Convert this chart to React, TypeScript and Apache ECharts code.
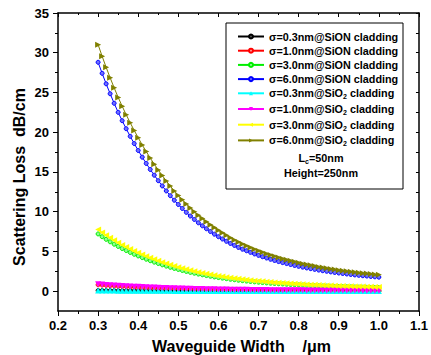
import React, { useEffect, useRef } from 'react';
import * as echarts from 'echarts';

const widths = [0.30,0.31,0.32,0.33,0.34,0.35,0.36,0.37,0.38,0.39,0.40,0.41,0.42,0.43,0.44,0.45,0.46,0.47,0.48,0.49,0.50,0.51,0.52,0.53,0.54,0.55,0.56,0.57,0.58,0.59,0.60,0.61,0.62,0.63,0.64,0.65,0.66,0.67,0.68,0.69,0.70,0.71,0.72,0.73,0.74,0.75,0.76,0.77,0.78,0.79,0.80,0.81,0.82,0.83,0.84,0.85,0.86,0.87,0.88,0.89,0.90,0.91,0.92,0.93,0.94,0.95,0.96,0.97,0.98,0.99,1.00];

const sion03 = [0.072,0.069,0.065,0.062,0.059,0.056,0.054,0.051,0.049,0.046,0.044,0.042,0.040,0.038,0.036,0.035,0.033,0.032,0.030,0.029,0.027,0.026,0.025,0.024,0.023,0.022,0.021,0.020,0.019,0.018,0.017,0.016,0.016,0.015,0.014,0.014,0.013,0.013,0.012,0.012,0.011,0.011,0.010,0.010,0.010,0.009,0.009,0.009,0.008,0.008,0.008,0.008,0.007,0.007,0.007,0.007,0.006,0.006,0.006,0.006,0.006,0.006,0.005,0.005,0.005,0.005,0.005,0.005,0.005,0.005,0.004];
const sion10 = [0.800,0.761,0.725,0.690,0.657,0.625,0.596,0.568,0.541,0.516,0.492,0.468,0.446,0.425,0.405,0.386,0.368,0.350,0.334,0.318,0.303,0.289,0.275,0.263,0.251,0.239,0.228,0.218,0.208,0.199,0.190,0.182,0.174,0.167,0.160,0.153,0.147,0.141,0.136,0.130,0.125,0.120,0.116,0.111,0.107,0.103,0.100,0.096,0.093,0.090,0.087,0.084,0.081,0.079,0.076,0.074,0.071,0.069,0.067,0.065,0.063,0.062,0.060,0.058,0.057,0.055,0.054,0.053,0.051,0.050,0.049];
const sion30 = [7.20,6.85,6.52,6.21,5.91,5.63,5.36,5.11,4.87,4.64,4.43,4.22,4.02,3.83,3.65,3.48,3.31,3.15,3.00,2.86,2.73,2.60,2.48,2.36,2.26,2.15,2.06,1.96,1.88,1.79,1.71,1.64,1.57,1.50,1.44,1.38,1.32,1.27,1.22,1.17,1.13,1.08,1.04,1.00,0.97,0.93,0.90,0.87,0.84,0.81,0.78,0.76,0.73,0.71,0.69,0.66,0.64,0.63,0.61,0.59,0.57,0.56,0.54,0.53,0.51,0.50,0.49,0.48,0.46,0.45,0.44];
const sion60 = [28.80,27.41,26.09,24.84,23.64,22.50,21.45,20.44,19.48,18.57,17.70,16.86,16.07,15.31,14.59,13.90,13.24,12.61,12.01,11.44,10.90,10.40,9.91,9.45,9.02,8.60,8.22,7.85,7.50,7.17,6.85,6.56,6.27,6.00,5.75,5.50,5.28,5.08,4.88,4.68,4.50,4.33,4.17,4.01,3.86,3.72,3.59,3.47,3.35,3.23,3.12,3.02,2.92,2.83,2.74,2.65,2.57,2.50,2.42,2.35,2.28,2.22,2.16,2.10,2.04,1.99,1.94,1.90,1.85,1.80,1.76];
const sio2_03 = [0.078,0.074,0.070,0.067,0.064,0.061,0.058,0.056,0.053,0.051,0.048,0.046,0.044,0.042,0.040,0.038,0.036,0.035,0.033,0.032,0.030,0.029,0.027,0.026,0.025,0.024,0.023,0.022,0.021,0.020,0.019,0.018,0.018,0.017,0.016,0.015,0.015,0.014,0.014,0.013,0.013,0.012,0.012,0.011,0.011,0.011,0.010,0.010,0.010,0.009,0.009,0.009,0.008,0.008,0.008,0.008,0.007,0.007,0.007,0.007,0.007,0.006,0.006,0.006,0.006,0.006,0.006,0.006,0.005,0.005,0.005];
const sio2_10 = [0.862,0.821,0.783,0.746,0.711,0.677,0.646,0.617,0.589,0.562,0.536,0.511,0.488,0.465,0.444,0.424,0.404,0.385,0.367,0.350,0.334,0.319,0.304,0.291,0.278,0.265,0.254,0.243,0.232,0.222,0.213,0.204,0.195,0.187,0.179,0.172,0.165,0.159,0.153,0.147,0.141,0.136,0.131,0.126,0.122,0.118,0.114,0.110,0.106,0.103,0.099,0.096,0.093,0.090,0.088,0.085,0.082,0.080,0.078,0.076,0.073,0.071,0.069,0.068,0.066,0.064,0.063,0.062,0.060,0.058,0.057];
const sio2_30 = [7.76,7.39,7.04,6.71,6.40,6.10,5.82,5.55,5.30,5.06,4.83,4.60,4.39,4.19,4.00,3.81,3.64,3.47,3.31,3.15,3.01,2.87,2.74,2.62,2.50,2.39,2.29,2.19,2.09,2.00,1.91,1.84,1.76,1.68,1.61,1.55,1.49,1.43,1.38,1.32,1.27,1.23,1.18,1.14,1.10,1.06,1.02,0.99,0.96,0.92,0.89,0.87,0.84,0.81,0.79,0.76,0.74,0.72,0.70,0.68,0.66,0.64,0.63,0.61,0.59,0.58,0.57,0.56,0.54,0.53,0.52];
const sio2_60 = [31.02,29.56,28.17,26.85,25.59,24.38,23.27,22.20,21.19,20.22,19.30,18.40,17.56,16.75,15.98,15.25,14.54,13.87,13.22,12.61,12.03,11.49,10.96,10.47,10.00,9.55,9.14,8.74,8.36,8.00,7.65,7.34,7.02,6.73,6.45,6.18,5.94,5.72,5.50,5.28,5.09,4.90,4.72,4.55,4.38,4.23,4.09,3.95,3.82,3.69,3.57,3.46,3.35,3.25,3.15,3.05,2.96,2.88,2.79,2.72,2.64,2.57,2.50,2.44,2.37,2.32,2.26,2.22,2.16,2.10,2.06];

const seriesNames = [
  'σ=0.3nm@SiON cladding',
  'σ=1.0nm@SiON cladding',
  'σ=3.0nm@SiON cladding',
  'σ=6.0nm@SiON cladding',
  'σ=0.3nm@SiO2 cladding',
  'σ=1.0nm@SiO2 cladding',
  'σ=3.0nm@SiO2 cladding',
  'σ=6.0nm@SiO2 cladding',
];
const seriesValues = [sion03, sion10, sion30, sion60, sio2_03, sio2_10, sio2_30, sio2_60];

const yMajorTicks = [0, 5, 10, 15, 20, 25, 30, 35];
const yMinorTicks = [2.5, 7.5, 12.5, 17.5, 22.5, 27.5, 32.5];

const xAxisTitle = 'Waveguide Width    /μm';
const yAxisTitle = 'Scattering Loss  dB/cm';
const noteLc = ['L', 'c', '=50nm'];
const noteHeight = 'Height=250nm';

const FONT = 'Liberation Sans, Arial, Helvetica, sans-serif';

const styles = [
  { color: '#000000', fill: '#555555', symbol: 'circle', size: 4, rotate: 0 },
  { color: '#ff0000', fill: '#ff9090', symbol: 'circle', size: 4, rotate: 0 },
  { color: '#00ee00', fill: '#90ff90', symbol: 'circle', size: 4, rotate: 0 },
  { color: '#0000ff', fill: '#7070ff', symbol: 'circle', size: 4, rotate: 0 },
  { color: '#00ffff', fill: '#00ffff', symbol: 'triangle', size: 6, rotate: 0 },
  { color: '#ff00ff', fill: '#ff00ff', symbol: 'triangle', size: 6, rotate: 180 },
  { color: '#ffff00', fill: '#ffff00', symbol: 'triangle', size: 6, rotate: 90 },
  { color: '#808000', fill: '#808000', symbol: 'triangle', size: 6, rotate: -90 },
];

export default function App() {
  const ref = useRef<HTMLDivElement>(null);
  useEffect(() => {
    const chart = echarts.init(ref.current!, null, { renderer: 'svg' });
    const series = seriesNames.map((name, k) => {
      const st = styles[k];
      return {
        type: 'line',
        name,
        data: widths.map((w, i) => [w, seriesValues[k][i]]),
        symbol: st.symbol,
        symbolSize: st.size,
        symbolRotate: st.rotate,
        showAllSymbol: true,
        xAxisIndex: 0,
        yAxisIndex: 0,
        lineStyle: { color: st.color, width: 1 },
        itemStyle: {
          color: st.fill,
          borderColor: st.color,
          borderWidth: st.symbol === 'circle' ? 1 : 0,
        },
        emphasis: { disabled: true },
      };
    });
    const richText = {
      a: { fontFamily: FONT, fontWeight: 'bold', fontSize: 10.8, lineHeight: 14, color: '#000' },
      s: { fontFamily: FONT, fontWeight: 'bold', fontSize: 7, lineHeight: 6, verticalAlign: 'bottom', color: '#000' },
    };
    const labelStyle = { fontFamily: FONT, fontWeight: 'bold', fontSize: 13, color: '#000' };
    const option = {
      animation: false,
      backgroundColor: '#ffffff',
      grid: { left: 58, right: 6, top: 13, bottom: 44, containLabel: false },
      xAxis: [
        {
          type: 'value', min: 0.2, max: 1.1, interval: 0.1, position: 'bottom',
          axisLine: { show: true, onZero: false, lineStyle: { color: '#000', width: 1.5 } },
          axisTick: { show: true, inside: false, length: 5, lineStyle: { color: '#000', width: 1 } },
          minorTick: { show: true, splitNumber: 2, length: 3, lineStyle: { color: '#000', width: 1 } },
          splitLine: { show: false }, minorSplitLine: { show: false },
          axisLabel: { ...labelStyle, margin: 8, formatter: (v: number) => v.toFixed(1) },
        },
        {
          type: 'value', min: 0.2, max: 1.1, interval: 0.1, position: 'top',
          axisLine: { show: true, onZero: false, lineStyle: { color: '#000', width: 1.5 } },
          axisTick: { show: true, inside: true, length: 4, lineStyle: { color: '#000', width: 1 } },
          minorTick: { show: true, splitNumber: 2, length: 2, lineStyle: { color: '#000', width: 1 } },
          splitLine: { show: false }, axisLabel: { show: false },
        },
      ],
      yAxis: [
        {
          type: 'value', min: -2.5, max: 35, interval: 2.5, position: 'left',
          axisLine: { show: true, onZero: false, lineStyle: { color: '#000', width: 1.5 } },
          axisTick: { show: true, inside: false, length: 5, customValues: yMajorTicks, lineStyle: { color: '#000', width: 1 } },
          splitLine: { show: false },
          axisLabel: { ...labelStyle, margin: 9, customValues: yMajorTicks, formatter: (v: number) => String(v) },
        },
        {
          type: 'value', min: -2.5, max: 35, interval: 2.5, position: 'left',
          axisLine: { show: false },
          axisTick: { show: true, inside: false, length: 3, customValues: yMinorTicks, lineStyle: { color: '#000', width: 1 } },
          splitLine: { show: false }, axisLabel: { show: false },
        },
        {
          type: 'value', min: -2.5, max: 35, interval: 2.5, position: 'right',
          axisLine: { show: true, onZero: false, lineStyle: { color: '#000', width: 1.5 } },
          axisTick: { show: true, inside: true, length: 3, customValues: [...yMajorTicks, ...yMinorTicks], lineStyle: { color: '#000', width: 1 } },
          splitLine: { show: false }, axisLabel: { show: false },
        },
      ],
      legend: {
        orient: 'vertical', left: 237, top: 31, padding: 0, itemGap: 3.2,
        itemWidth: 26, itemHeight: 5, selectedMode: false,
        data: seriesNames,
        textStyle: { fontFamily: FONT, fontWeight: 'bold', fontSize: 10.8, color: '#000', rich: richText },
        formatter: (name: string) => {
          if (name.indexOf('SiO2') >= 0) {
            const parts = name.split('SiO2');
            return `{a|${parts[0]}SiO}{s|2}{a|${parts[1]}}`;
          }
          return `{a|${name}}`;
        },
      },
      graphic: [
        {
          type: 'rect', z: 10, silent: true,
          shape: { x: 226, y: 23, width: 177, height: 166 },
          style: { fill: 'none', stroke: '#000', lineWidth: 1 },
        },
        {
          type: 'text', z: 10, x: 321, y: 157.5,
          style: {
            text: `{a|${noteLc[0]}}{s|${noteLc[1]}}{a|${noteLc[2]}}`,
            rich: richText, align: 'center', verticalAlign: 'middle',
          },
        },
        {
          type: 'text', z: 10, x: 321, y: 173,
          style: {
            text: noteHeight, fill: '#000', align: 'center', verticalAlign: 'middle',
            font: `bold 10.8px ${FONT}`,
          },
        },
        {
          type: 'text', z: 10, x: 241.5, y: 346.5,
          style: {
            text: xAxisTitle, fill: '#000', align: 'center', verticalAlign: 'middle',
            font: `bold 16px ${FONT}`,
          },
        },
        {
          type: 'text', z: 10, x: 19.5, y: 177, rotation: Math.PI / 2,
          style: {
            text: yAxisTitle, fill: '#000', align: 'center', verticalAlign: 'middle',
            font: `bold 16px ${FONT}`,
          },
        },
      ],
      series,
    };
    chart.setOption(option as any);
    return () => chart.dispose();
  }, []);
  return (
    <div
      ref={ref}
      style={{ position: 'fixed', left: 0, top: 0, width: 431, height: 355, background: '#fff' }}
    />
  );
}
